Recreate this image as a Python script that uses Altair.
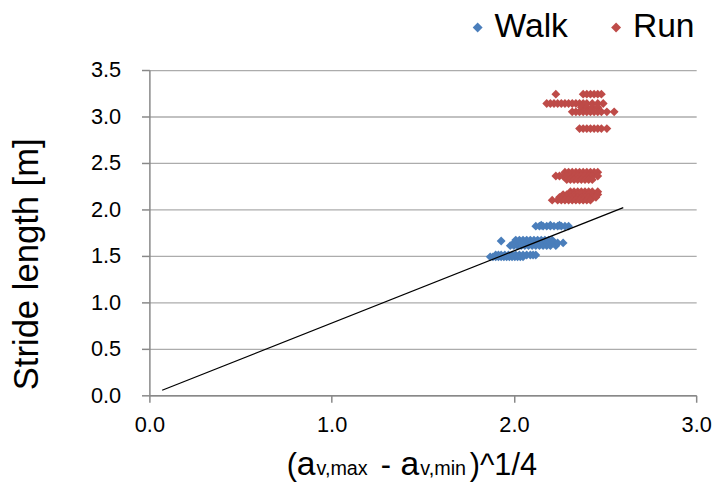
import altair as alt
import pandas as pd

FONT = "Liberation Sans"
BLUE = "#4A7EBB"
RED = "#BE4B48"

# ---- data ----
walk_y = [1.49, 1.51, 1.61, 1.64, 1.66, 1.67, 1.82, 1.83]
walk_x = [
    [1.87, 1.885, 1.90, 1.915, 1.93, 1.945, 1.96, 1.975, 1.99, 2.005, 2.02, 2.035, 2.05],
    [1.90, 1.915, 1.93, 1.95, 1.97, 1.99, 2.01, 2.03, 2.05, 2.07, 2.09, 2.105, 2.12],
    [1.98, 2.00, 2.02, 2.04, 2.06, 2.08, 2.10, 2.12, 2.14, 2.16, 2.18, 2.20, 2.23],
    [2.00, 2.02, 2.04, 2.06, 2.08, 2.10, 2.12, 2.14, 2.16, 2.18, 2.20, 2.22, 2.24, 2.27],
    [1.93],
    [2.01, 2.03, 2.05, 2.07, 2.09, 2.11, 2.13, 2.15, 2.17, 2.19, 2.21],
    [2.12, 2.14, 2.16, 2.18, 2.20, 2.22, 2.24, 2.26, 2.28, 2.30],
    [2.15, 2.20, 2.25],
]

run_y = [3.24, 3.14, 3.10, 3.05, 2.87, 2.40, 2.36, 2.32, 2.19, 2.16, 2.13, 2.10]
run_x = [
    [2.23, 2.38, 2.40, 2.42, 2.44, 2.46, 2.48],
    [2.18, 2.20, 2.22, 2.24, 2.26, 2.28, 2.30, 2.32, 2.34, 2.36, 2.38, 2.40, 2.43, 2.46, 2.49],
    [2.37, 2.40, 2.43, 2.46],
    [2.32, 2.34, 2.36, 2.38, 2.40, 2.42, 2.44, 2.46, 2.48, 2.51, 2.55],
    [2.36, 2.38, 2.40, 2.42, 2.44, 2.46, 2.48, 2.51],
    [2.28, 2.30, 2.32, 2.34, 2.36, 2.38, 2.40, 2.42, 2.44, 2.46],
    [2.23, 2.25, 2.27, 2.29, 2.31, 2.33, 2.35, 2.37, 2.39, 2.41, 2.43, 2.46],
    [2.29, 2.31, 2.33, 2.35, 2.37, 2.39, 2.41, 2.43],
    [2.31, 2.33, 2.35, 2.37, 2.39, 2.41, 2.43, 2.46],
    [2.27, 2.29, 2.31, 2.33, 2.35, 2.37, 2.39, 2.41, 2.43, 2.46],
    [2.25, 2.27, 2.29, 2.31, 2.33, 2.35, 2.37, 2.39, 2.41, 2.43, 2.45],
    [2.21, 2.24, 2.26, 2.28, 2.30, 2.32, 2.34, 2.36, 2.38, 2.40, 2.42],
]

line_x = [0.07, 2.60]
line_y = [0.055, 2.02]

x_ticks = [0, 1, 2, 3]
y_ticks = [0, 0.5, 1.0, 1.5, 2.0, 2.5, 3.0, 3.5]

rows = []
for y, xs in zip(walk_y, walk_x):
    for x in xs:
        rows.append({"x": x, "y": y, "Mode": "Walk"})
for y, xs in zip(run_y, run_x):
    for x in xs:
        rows.append({"x": x, "y": y, "Mode": "Run"})
df = pd.DataFrame(rows)
line_df = pd.DataFrame({"x": line_x, "y": line_y})

xscale = alt.Scale(domain=[0, 3], nice=False, zero=False)
yscale = alt.Scale(domain=[0, 3.5], nice=False, zero=False)

points = alt.Chart(df).mark_point(
    shape="diamond", filled=True, size=80, opacity=1
).encode(
    x=alt.X("x:Q", scale=xscale, axis=alt.Axis(
        values=x_ticks, format=".1f", title=None, grid=False, labelFlush=False,
        tickSize=7, labelPadding=13, labelFontSize=22)),
    y=alt.Y("y:Q", scale=yscale, axis=alt.Axis(
        values=y_ticks, format=".1f", title="Stride length [m]", labelFlush=False,
        grid=True, tickSize=8, labelPadding=21, labelFontSize=22,
        titleFontSize=35, titleFontWeight="normal", titleAngle=270,
        titleX=-124, titleY=196, titleAlign="center", titleBaseline="middle")),
    color=alt.Color("Mode:N", scale=alt.Scale(domain=["Walk", "Run"], range=[BLUE, RED]),
                    legend=alt.Legend(
                        title=None, orient="none", legendX=315, legendY=-60,
                        direction="horizontal", symbolType="diamond", symbolSize=100,
                        labelFontSize=34, labelFont=FONT, labelOffset=0,
                        columnPadding=31, padding=0, labelColor="black")),
)

line = alt.Chart(line_df).mark_line(color="black", strokeWidth=1.2).encode(
    x=alt.X("x:Q", scale=xscale), y=alt.Y("y:Q", scale=yscale)
)


def label(text, px, size):
    return alt.Chart(alt.Data(values=[{}])).mark_text(
        align="left", baseline="alphabetic", font=FONT, fontSize=size, color="black"
    ).encode(x=alt.value(px), y=alt.value(410), text=alt.value(text))


title_parts = [
    label("(", 139, 31),
    label("a", 149, 34),
    label("v,max", 169, 20),
    label("-", 234, 31),
    label("a", 254, 34),
    label("v,min", 274, 20),
    label(")^1/4", 324, 31),
]

chart = alt.layer(points, line, *title_parts).properties(
    width=553, height=329,
    autosize=alt.AutoSizeParams(type="none"),
    padding={"left": 143, "top": 60, "right": 16, "bottom": 92},
).configure_view(stroke=None).configure_axis(
    labelFont=FONT, titleFont=FONT, labelColor="black", titleColor="black",
    domainColor="#888888", tickColor="#888888", gridColor="#ACACAC",
    domainWidth=1.5, tickWidth=1.5, gridWidth=1.3,
).configure_text(font=FONT)

chart.save("out.html", embed_options={"renderer": "svg", "actions": False})
